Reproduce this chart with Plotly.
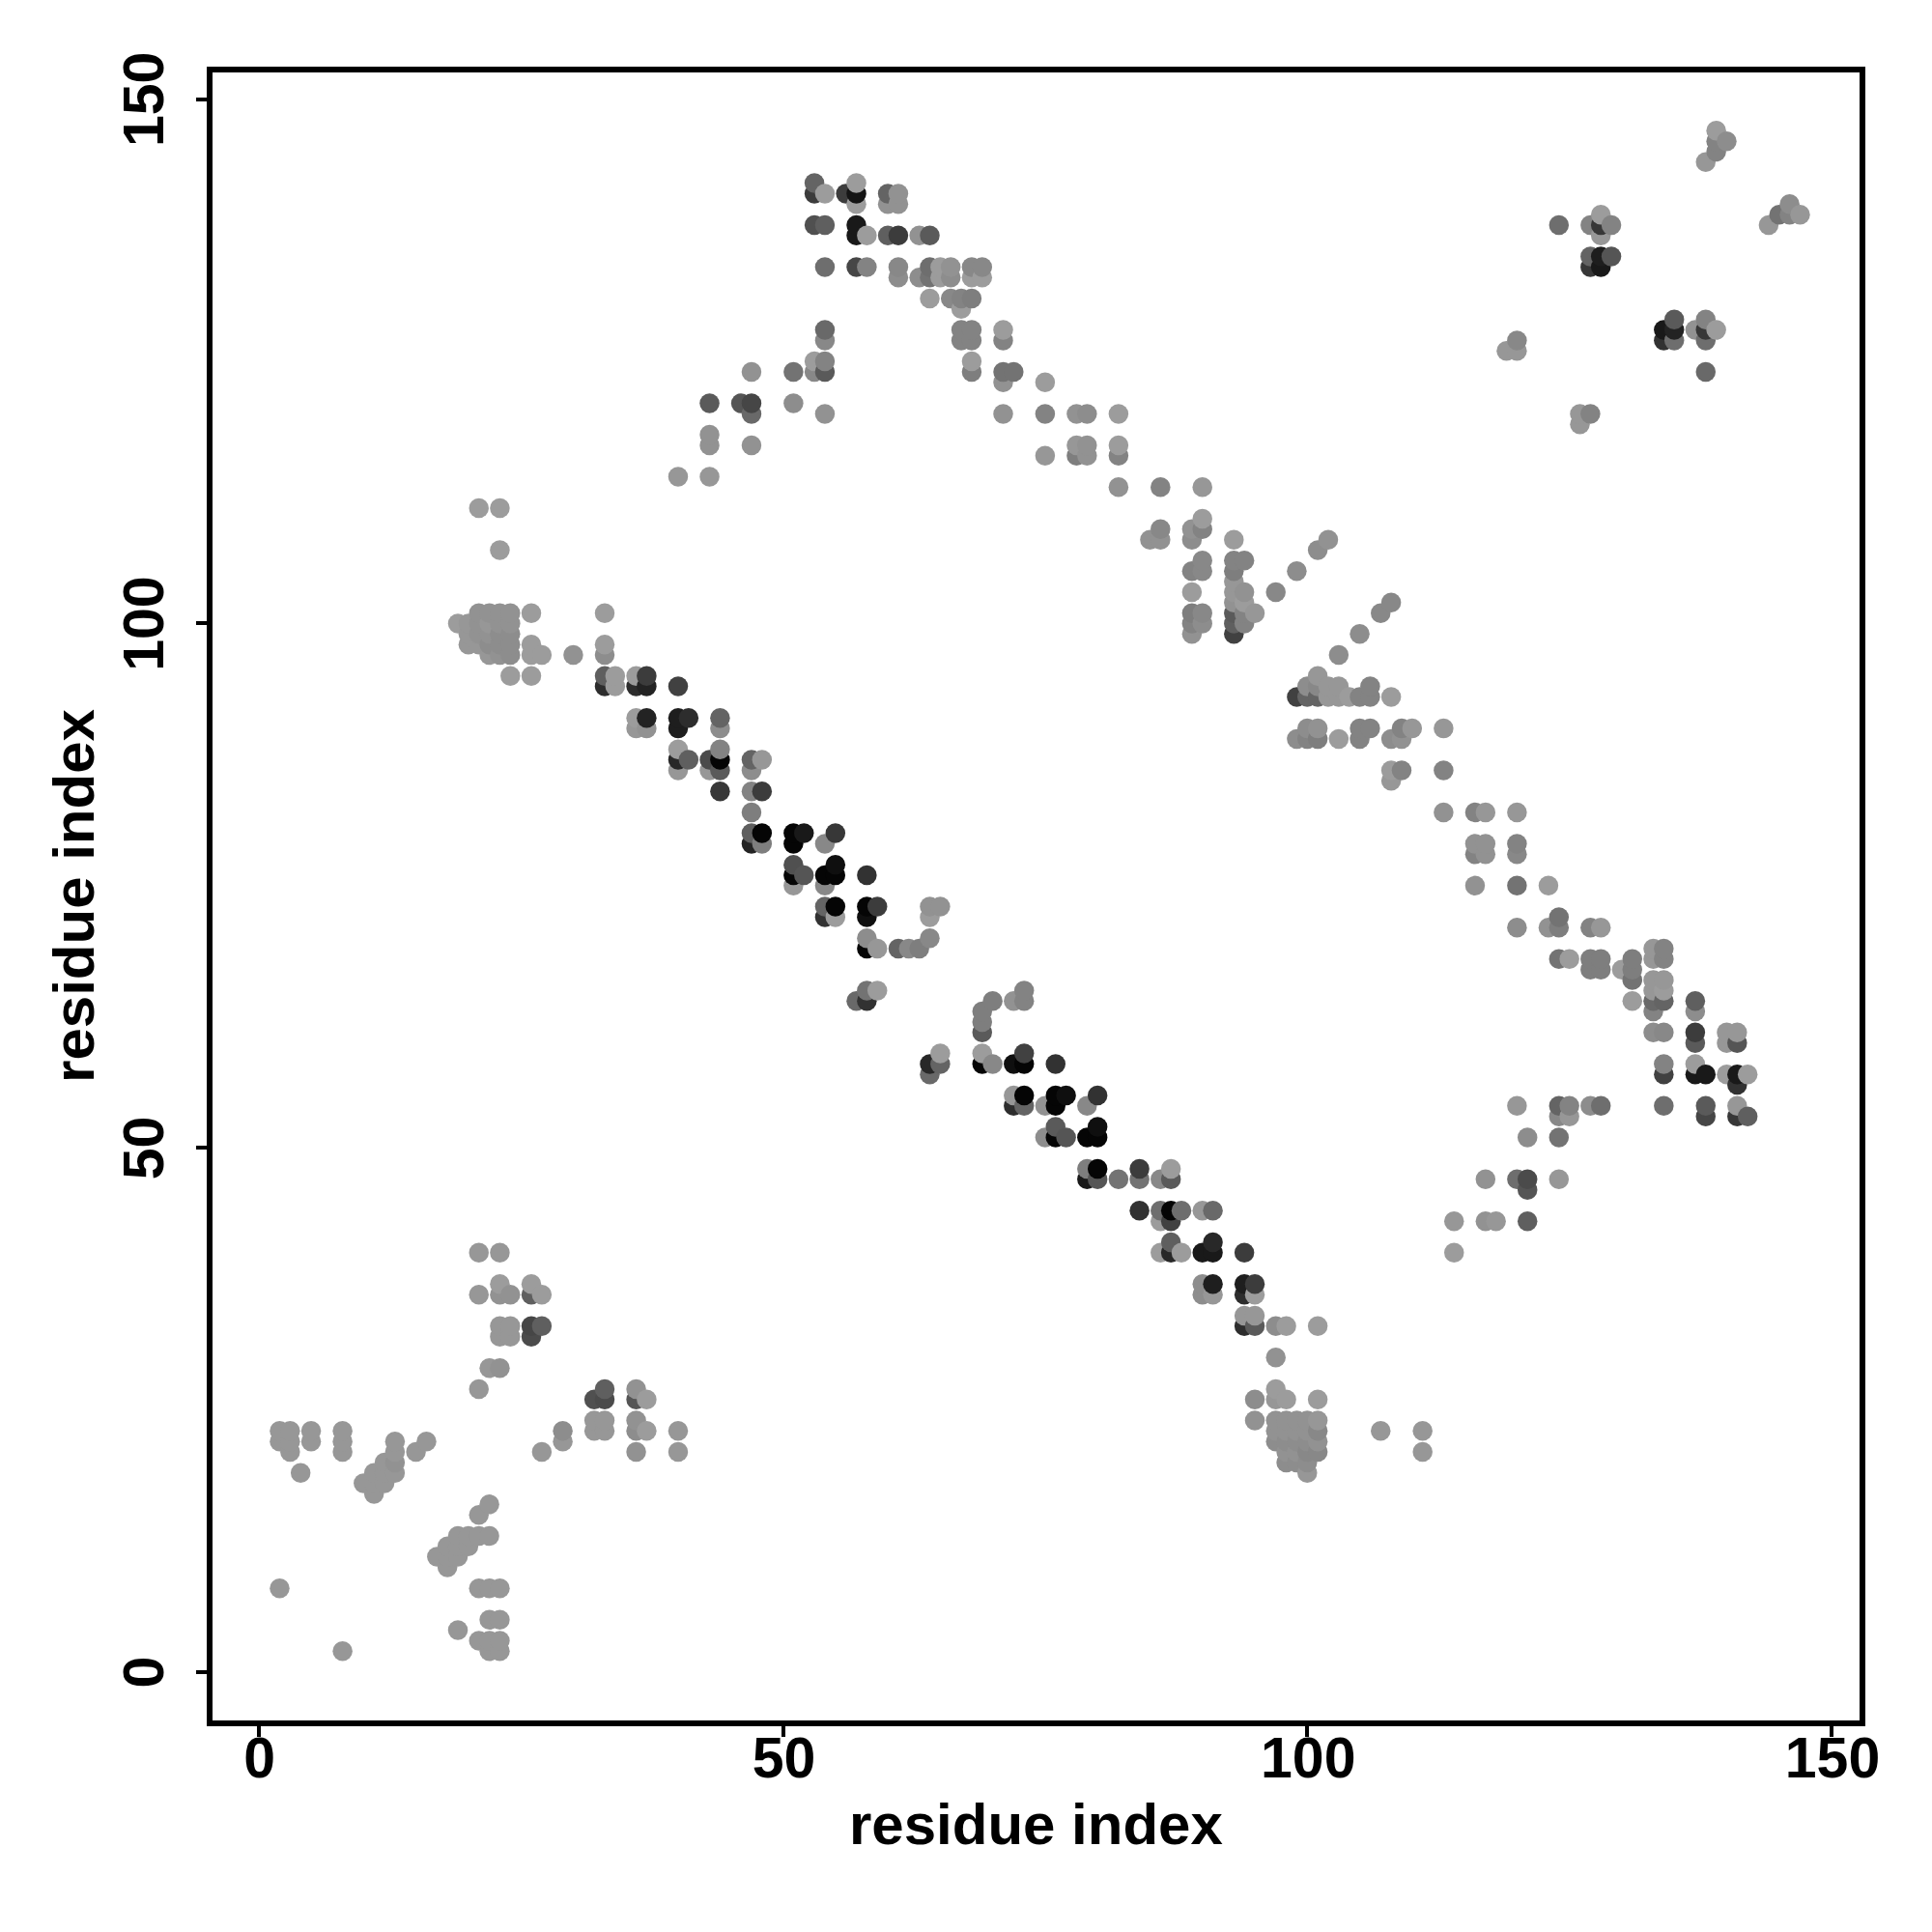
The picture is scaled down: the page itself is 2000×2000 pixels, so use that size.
import plotly.graph_objects as go

row_y = [147,146,145,144,142,141,140,139,138,137,135,134,133,131,130,129,128,127,126,125,124,123,121,120,119,118,117,116,114,113,111,110,109,108,107,106,105,104,103,102,101,100,99,98,97,95,94,93,91,90,89,88,87,86,85,84,82,80,79,78,77,76,75,73,72,71,70,69,68,67,66,65,64,63,62,61,60,59,58,57,56,55,54,53,52,51,48,47,46,44,43,41,40,37,36,34,33,32,30,29,27,26,24,23,22,21,20,19,18,17,16,15,13,12,11,10,8,5,4,3,2]
row_x = [
[139],[139,140],[139],[138],[53,57],[53,54,56,57,60,61],[57,60,61,146],[128,145,146,147],
[53,54,57,124,127,128,129,144],[57,58,60,61,63,64,128],[127,128,129],
[54,57,58,61,64,65,66,68,69,127,128],[61,63,64,65,66,68,69],[64,66,67,68],[67],[135,138],
[54,67,68,71,134,135,137,138,139],[54,67,68,71,120,134,135,138],[119,120],[53,54,68],
[47,51,53,54,68,71,72,138],[71,75],[43,46,47,51],[47,54,71,75,78,79,82,126,127],[126],[43],
[43,47,78,79,82],[75,78,79,82],[40,43],[82,86,90],[21,23],[90],[86,89,90],[85,86,89,93,102],
[23,101],[90,93,94],[89,90,93,99],[93],[89,93,94,97],[93,94,108],
[21,22,23,24,26,33,89,90,93,94,95,107],[19,20,21,22,23,24,89,90,93,94],[20,21,22,23,24,89,93,105],
[20,21,22,23,24,26,33],[22,23,24,26,27,30,33,103],[24,26,33,34,36,37,101],
[33,34,36,37,40,100,101,102,103,106],[99,100,101,102,103,104,105,106,108],[36,37,40,41,44],
[36,37,40,44,100,101,105,106,109,110,113],[99,100,101,103,105,108,109],[40,44],[40,41,43,44,47,48],
[40,43,44,47,108,109,113],[108],[44,47,48],[47,113,116,117,120],[47,48,51,52,55],
[47,48,51,54,116,117,120],[116,117,120],[51,55],[51,52,54,55,58],[51,54,116,120,123],
[54,55,58,59,64,65],[54,55,58,64,124],[120,123,124,127,128],[58,64],[58,59,61,62,63,133,134],
[124,125,127,128,131,133,134],[127,128,130,131],[131,133,134],[58,59,73,133,134],
[57,58,70,72,73,131,133,134,137],[69,133,137],[69],[69,133,134,137,140,141],[137,140,141],[65,69,73],
[64,65,69,70,72,73,76,134,137],[64,134,137,138,140,141,142],[141],[72,73,76,77,80],
[72,73,75,76,79,120,124,125,127,128,134,138,141],[124,125,138,141,142],[76,80],[75,76,77,79,80,121,124],
[79,80,84,87],[79,80,82,84,86,87,117,120,121,124],[121],[84,86,87,88,90,91],[86,87,114,117,118,121],
[87,91],[21,23,86,87,88,90,91,94,114],[23,26,90,91,94,95],[21,23,24,26,27,90,91,94,95],[94,95],
[23,24,26,27,94,95,97,98,101],[23,24,26],[97],[22,23],[21,33,36,97],[32,33,36,37,95,97,98,101],
[32,33,36,95,97,98,99,100,101],[2,3,5,8,29,32,33,36,37,40,97,98,99,100,101,107,111],
[2,3,5,8,13,16,29,97,98,99,100,101],[3,8,13,15,27,36,40,98,99,100,101,111],[12,13,98,99,100],
[4,11,12,13,100],[10,11,12],[11],[22],[21],[19,20,21,22],[18,19,20],[17,18,19],[18],[2,21,22,23],
[22,23],[19],[21,22,23],[8,22,23],
]
row_shade = [
[150],[125,135],[125],[145],[100,150],[60,150,60,20,100,140],[150,140,140,135],[150,115,125,145],
[80,95,25,110,125,55,125,145],[25,150,95,60,140,90,145],[100,30,85],
[110,70,125,130,110,150,140,130,130,55,25],[135,135,115,150,135,150,150],[150,130,125,120],[150],[90,125],
[105,125,125,150,25,35,140,55,150],[130,125,125,125,130,50,110,110],[145,145],[150,125,150],
[140,115,130,90,120,115,115,105],[140,150],[90,85,70,135],[105,140,140,125,140,135,150,145,125],[145],[140],
[140,140,145,140,150],[145,120,140,125],[145,145],[140,125,145],[150,150],[150],[130,140,125],[140,140,135,150,140],
[150,135],[130,125,125],[125,130,120,135],[145],[150,145,140,130],[140,150,130],
[140,140,140,140,150,150,120,130,90,125,145,130],[150,145,140,145,140,140,125,135,95,125],[145,140,140,135,135,140,65,135],
[145,145,135,135,135,150,150],[145,140,135,150,150,140,135,135],[150,150,95,150,150,60,145],
[45,150,45,35,65,135,130,145,145,125],[65,100,100,145,145,150,125,125,150],[150,35,30,45,100],
[145,140,30,135,135,140,125,125,125,145,145],[135,125,120,150,125,135,140],[150,125],[40,95,75,5,100,145],
[145,145,90,135,150,125,125],[145],[55,125,60],[120,140,125,145,145],[95,5,5,25,55],
[35,120,5,130,140,140,125],[125,140,130],[80,15],[5,85,5,5,50],[145,130,140,115,150],
[100,5,5,60,140,140],[50,150,15,150,115],[135,140,120,125,145],[135,130],[5,145,100,130,120,145,125],
[115,150,120,120,120,145,125],[120,120,150,120],[115,145,145],[115,150,125,145,150],
[105,50,120,140,125,150,105,100,95],[120,125,135],[120],[90,135,130,60,145,145],[90,145,85],[150,150,65],
[40,100,5,130,15,5,50,125,150],[105,65,25,25,150,25,150],[50],[145,5,5,15,50],
[45,100,140,5,130,145,100,125,135,110,110,90,145],[130,145,70,55,95],[90,15],[135,5,85,5,5,135,115],
[120,5,60,150],[25,85,115,115,130,90,140,110,75,145],[85],[50,110,5,110,145,105],[150,65,145,140,145,95],
[95,40],[145,145,150,40,150,25,25,60,150],[150,150,135,30,30,60],[145,140,140,95,150,135,145,45,150],[145,145],
[145,145,70,95,45,90,135,150,150],[145,145,75],[140],[145,140],[145,95,140,150],[80,75,85,150,135,145,150,150],
[145,145,140,140,140,140,140,140,145],[145,145,145,145,135,145,145,135,150,145,140,140,140,140,130,145,145],
[145,145,145,145,145,145,145,135,135,135,135,140],[145,145,145,145,145,140,145,140,140,130,130,145],[145,140,135,135,135],
[145,145,145,145,145],[145,145,145],[145],[145],[145],[145,145,145,145],[145,145,145],[145,145,145],[145],[145,145,145,145],
[145,145],[145],[145,145,145],[145,145,145],
]

tick_values = [0, 50, 100, 150]
tick_labels = ["0", "50", "100", "150"]
axis_title = "residue index"

points = []
for y, xs, gs in zip(row_y, row_x, row_shade):
    assert len(xs) == len(gs), y
    points += [(x, y, g) for x, g in zip(xs, gs)]
points.sort(key=lambda p: (p[0], p[1]))


def gray(g):
    g = g + 6 if g >= 120 else g
    return f"rgb({g},{g},{g})"


fig = go.Figure(go.Scatter(
    x=[p[0] for p in points], y=[p[1] for p in points], mode="markers",
    marker=dict(size=20.5, color=[gray(p[2]) for p in points], line=dict(width=0)),
    showlegend=False, hoverinfo="skip"))

W = H = 2000
PAGE = 8
L, R, T, B = 219.8 - PAGE, 1925.0 - PAGE, 74.5 - PAGE, 1780.5 - PAGE
TICK_FONT = dict(family="Liberation Sans", size=59, color="black")
TITLE_FONT = dict(family="Liberation Sans", size=60, color="black")
BOLD = "<b>%s</b>"
common = dict(tickvals=tick_values, ticktext=[BOLD % t for t in tick_labels], showgrid=False, zeroline=False,
              showline=True, mirror=True, linecolor="black", linewidth=6,
              ticks="outside", ticklen=11, tickwidth=4, tickcolor="black", tickfont=TICK_FONT)
fig.update_layout(
    width=W, height=H, autosize=False, margin=dict(l=0, r=0, t=0, b=0),
    paper_bgcolor="white", plot_bgcolor="white",
    xaxis=dict(domain=[L / W, R / W], range=[-4.42, 152.67], tickangle=0, ticklabelstandoff=-28, ticklabelshift=1,
               title=dict(text=BOLD % axis_title, font=TITLE_FONT, standoff=17), automargin=False, **common),
    yaxis=dict(domain=[1 - B / H, 1 - T / H], range=[-4.56, 152.6], tickangle=-90, ticklabelstandoff=10, ticklabelshift=9,
               title=dict(text=BOLD % axis_title, font=TITLE_FONT, standoff=1.5), automargin=False, **common),
)
fig.write_html("out.html")
